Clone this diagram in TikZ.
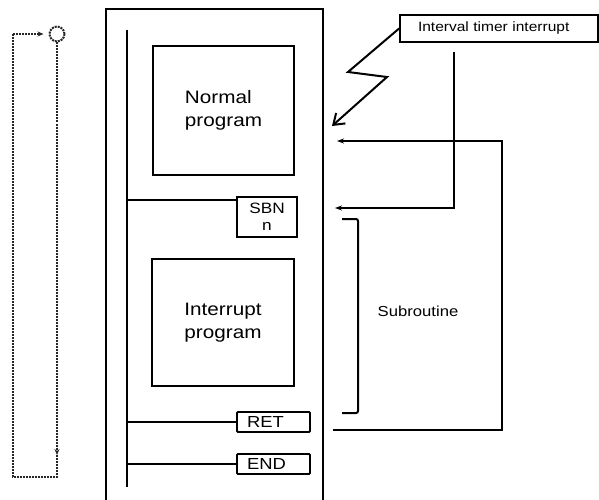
\documentclass[tikz,border=0pt]{standalone}
\usepackage{fontspec}
\newfontfamily\diagfont[FakeStretch=1.15]{Liberation Sans}
\usetikzlibrary{arrows.meta}

\begin{document}
\begin{tikzpicture}[x=1pt,y=-1pt,
  box/.style={draw,line width=2pt,align=left,inner sep=0pt,font=\diagfont\fontsize{18}{23}\selectfont},
  ins/.style={draw,line width=1.8pt,rounded corners=1pt,inner ysep=0pt,inner xsep=10pt,text width=53pt,minimum height=20pt,align=left,font=\diagfont\fontsize{16}{17}\selectfont},
  wire/.style={line width=2pt},
  fb/.style={line width=2pt,-{Stealth[length=7pt,width=5pt]}},
  scan/.style={densely dotted,line width=2pt,draw=black!85}]

\useasboundingbox (0,0) rectangle (599,500);

% program frame and rail
\draw[line width=2.4pt] (106,505) -- (106,9) -- (323,9) -- (323,505);
\coordinate (railtop) at (127,30);
\coordinate (railbot) at (127,487);
\draw[wire] (railtop) -- (railbot);

\node[box,minimum width=141pt,minimum height=129pt] (normal) at (223.5,110.5) {Normal\\program};
\node[box,minimum width=142pt,minimum height=127pt] (intr) at (223,322.5) {Interrupt\\program};
\node[draw,line width=1.8pt,minimum width=60pt,minimum height=40pt,inner sep=0pt,align=center,font=\diagfont\fontsize{15}{17}\selectfont] (sbn) at (267,217) {SBN\\n};
\node[ins] (ret) at (273.5,422) {RET};
\node[ins] (end) at (273.5,464) {END};

\coordinate (sbnin) at ([yshift=-4pt]sbn.north west);
\draw[wire] (sbnin) -- (sbnin -| railtop);
\draw[wire] (ret.west) -- (ret.west -| railtop);
\draw[wire] (end.west) -- (end.west -| railtop);

% interrupt source
\node[draw,line width=1.8pt,minimum height=27pt,inner ysep=0pt,inner xsep=18pt,text width=162pt,align=left,font=\diagfont\fontsize{13.5}{15}\selectfont] (timer) at (499,28.5) {Interval timer interrupt};
\coordinate (hit) at (332,126);
\draw[line width=2pt,-{Straight Barb[length=10pt,width=14pt]}] (timer.west) -- (348,72) -- (387,77) -- (hit);

% jumps
\coordinate (tap) at (454,52);
\coordinate (sbnhit) at (335,208);
\draw[fb] (tap) |- (sbnhit);
\coordinate (retout) at (333,430);
\coordinate (normhit) at (337,141);
\draw[fb] (retout) -- (502,430) |- (normhit);

% subroutine bracket
\draw[line width=2pt,rounded corners=2pt] (342,219) -- (358,219) -- (358,413) -- (342,413);
\node[font=\diagfont\fontsize{14.5}{17}\selectfont] (sub) at (418,311) {Subroutine};

% scan cycle
\node[circle,draw=black!85,densely dotted,line width=2pt,minimum size=15pt,inner sep=0pt] (cyc) at (57,34) {};
\coordinate (lt) at (13,34);
\coordinate (lb) at (13,477);
\coordinate (rb) at (57,477);
\coordinate (rmid) at (57,455);
\draw[scan,-{Stealth[length=6pt,width=5pt]}] (cyc.south) -- (rmid);
\draw[scan] (rmid) -- (rb) -- (lb) -- (lt);
\draw[scan,shorten >=5pt,-{Stealth[length=6pt,width=5pt]}] (lt) -- (cyc.west);
\end{tikzpicture}
\end{document}
